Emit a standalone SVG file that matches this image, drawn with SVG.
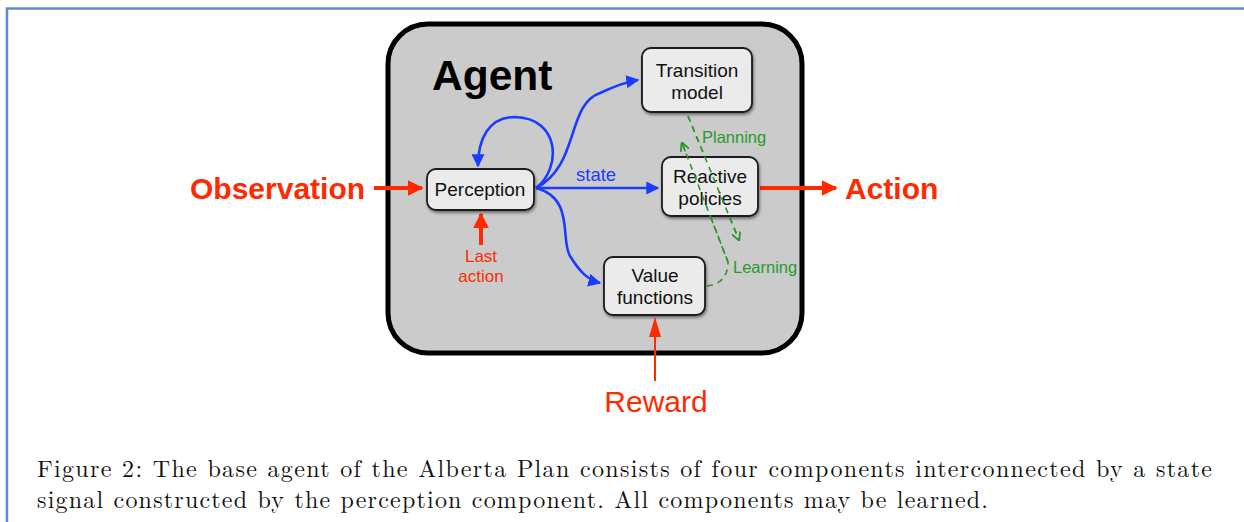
<svg xmlns="http://www.w3.org/2000/svg" width="1244" height="522" viewBox="0 0 1244 522">
<defs>
<style>
.node rect{fill:#ebebeb;stroke:#1a1a1a;stroke-width:1.8;filter:url(#sh)}
.nt{font-family:"Liberation Sans",Arial,sans-serif;font-size:19px;fill:#111;text-anchor:middle}
.blue{fill:none;stroke:#1a3cff;stroke-width:2.6}
.green{fill:none;stroke:#2a9a2a;stroke-width:1.6;stroke-dasharray:6 5}
.red{stroke:#ff2a00;fill:none}
.rt{font-family:"Liberation Sans",Arial,sans-serif;fill:#ff2a00}
.gt{font-family:"Liberation Sans",Arial,sans-serif;font-size:16.5px;fill:#2a9a2a}
.cap{font-family:"Latin Modern Roman","Liberation Serif","Times New Roman",serif;font-size:24px;fill:#111}
</style>
<filter id="sh" x="-20%" y="-20%" width="140%" height="150%"><feDropShadow dx="1" dy="2" stdDeviation="1.5" flood-color="#000" flood-opacity="0.45"/></filter>
<marker id="ab" viewBox="0 0 10 10" refX="9" refY="5" markerWidth="5" markerHeight="5" orient="auto"><path d="M0,0 L10,5 L0,10 z" fill="#1a3cff"/></marker>
<marker id="ag" viewBox="0 0 10 10" refX="9" refY="5" markerWidth="9" markerHeight="9" orient="auto" markerUnits="userSpaceOnUse"><path d="M0,0 L10,5 L0,10" fill="none" stroke="#2a9a2a" stroke-width="2"/></marker>
<marker id="ar" viewBox="0 0 10 10" refX="9" refY="5" markerWidth="4" markerHeight="4" orient="auto"><path d="M0,0 L10,5 L0,10 z" fill="#ff2a00"/></marker>
</defs>
<rect width="1244" height="522" fill="#fff"/>
<path d="M7,522 V8.5 H1244" fill="none" stroke="#5b8bd0" stroke-width="2.5"/>
<g id="agent">
<rect x="388" y="24" width="414" height="329" rx="40" fill="#cbcbcb" stroke="#000" stroke-width="5"/>
<text x="432" y="90" font-family="Liberation Sans,Arial,sans-serif" font-weight="bold" font-size="42.5" fill="#000">Agent</text>
</g>
<g id="connectors">
<path class="blue" d="M536,188 H658" marker-end="url(#ab)"/>
<path class="blue" d="M536,188 C580,165 566,105 600,93 C615,86 625,82 638,80" marker-end="url(#ab)"/>
<path class="blue" d="M536,188 C562,168 560,118 515,117 C488,117 478,140 478,166" marker-end="url(#ab)"/>
<path class="blue" d="M536,188 C575,198 560,240 570,256 C580,272 588,280 600,283" marker-end="url(#ab)"/>
<text x="576" y="181" font-family="Liberation Sans,Arial,sans-serif" font-size="18.5" fill="#1a3cff">state</text>
<path class="green" d="M688,116 L739,240" marker-end="url(#ag)"/>
<path class="green" d="M707,286 C722,284 728,275 728,262 L682,143" marker-end="url(#ag)"/>
<text class="gt" x="702" y="143">Planning</text>
<text class="gt" x="733" y="273">Learning</text>
<path class="red" d="M374,188 H422" stroke-width="4" marker-end="url(#ar)"/>
<path class="red" d="M760,188 H836" stroke-width="4" marker-end="url(#ar)"/>
<path class="red" d="M481,245 V214" stroke-width="4" marker-end="url(#ar)"/>
<path d="M655,381 V336" stroke="#ff2a00" stroke-width="2"/>
<path d="M649,337 L655,317 L661,337 z" fill="#ff2a00"/>
</g>
<g id="observation"><text class="rt" x="190" y="199" font-size="30" font-weight="bold">Observation</text></g>
<g id="action"><text class="rt" x="845" y="199" font-size="30" font-weight="bold">Action</text></g>
<g id="reward"><text class="rt" x="656" y="412" font-size="30" text-anchor="middle">Reward</text></g>
<g id="lastaction"><text class="rt" x="481" y="262" font-size="17" text-anchor="middle">Last</text><text class="rt" x="481" y="282" font-size="17" text-anchor="middle">action</text></g>
<g id="transition" class="node"><rect x="642" y="48" width="110" height="64" rx="9"/><text class="nt" x="697" y="77">Transition</text><text class="nt" x="697" y="99">model</text></g>
<g id="perception" class="node"><rect x="427" y="169" width="107" height="41" rx="9"/><text class="nt" x="480" y="196">Perception</text></g>
<g id="reactive" class="node"><rect x="662" y="157" width="96" height="59" rx="9"/><text class="nt" x="710" y="183">Reactive</text><text class="nt" x="710" y="205">policies</text></g>
<g id="value" class="node"><rect x="604" y="257" width="101" height="58" rx="9"/><text class="nt" x="655" y="282">Value</text><text class="nt" x="655" y="304">functions</text></g>
<path class="green" d="M688,116 L739,240"/>
<path class="green" d="M728,262 L682,143"/>
<g id="caption">
<text class="cap" x="37" y="477" textLength="1175" lengthAdjust="spacing">Figure 2: The base agent of the Alberta Plan consists of four components interconnected by a state</text>
<text class="cap" x="37" y="508" textLength="951" lengthAdjust="spacing">signal constructed by the perception component. All components may be learned.</text>
</g>
</svg>
